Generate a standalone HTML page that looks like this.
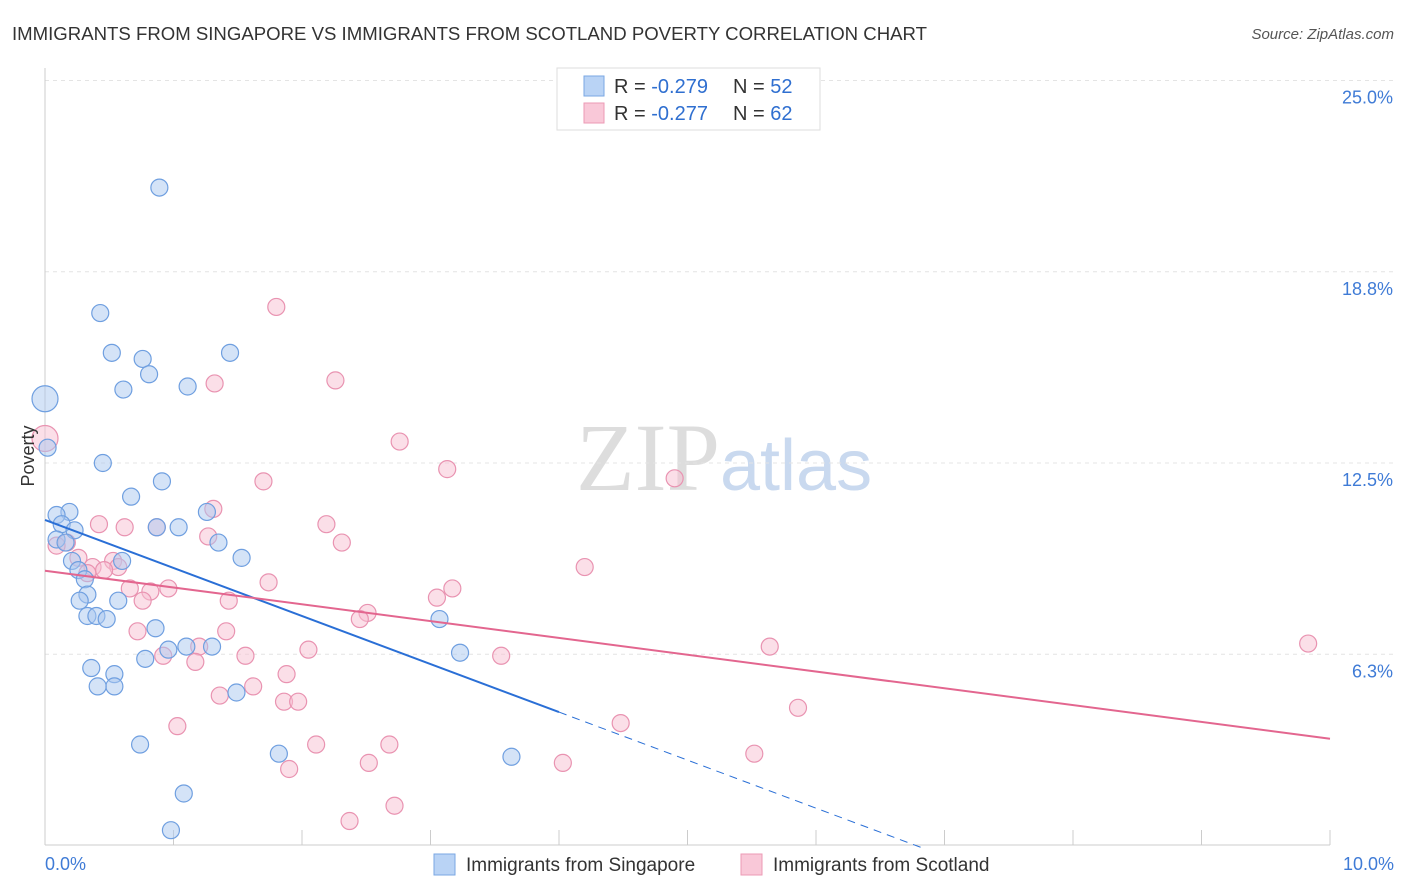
<!DOCTYPE html>
<html><head><meta charset="utf-8"><style>
body{margin:0;background:#fff;font-family:"Liberation Sans",sans-serif}
svg{display:block}
</style></head><body>
<svg width="1406" height="892" viewBox="0 0 1406 892">
<text x="12" y="40" font-size="18.6" fill="#333">IMMIGRANTS FROM SINGAPORE VS IMMIGRANTS FROM SCOTLAND POVERTY CORRELATION CHART</text>
<text x="1394" y="39" font-size="15" fill="#555" font-style="italic" text-anchor="end">Source: ZipAtlas.com</text>
<text x="720" y="490" font-size="96" fill="#ddd" font-family="Liberation Serif,serif" text-anchor="end">ZIP</text>
<text x="720" y="490" font-size="72" fill="#c9d9ef">atlas</text>
<g id="grid"></g><g id="axes"></g><g id="pts"></g><g id="trend"></g>
<g>
<rect x="557" y="68" width="263" height="62" fill="#fff" stroke="#ddd"/>
<rect x="584" y="76" width="20" height="20" fill="#b9d3f5" stroke="#7aa7e3"/>
<rect x="584" y="103" width="20" height="20" fill="#f9c8d8" stroke="#ec9ab5"/>
<text x="614" y="93" font-size="20" fill="#333">R = <tspan fill="#2f6fd0">-0.279</tspan><tspan x="733">N = </tspan><tspan fill="#2f6fd0">52</tspan></text>
<text x="614" y="120" font-size="20" fill="#333">R = <tspan fill="#2f6fd0">-0.277</tspan><tspan x="733">N = </tspan><tspan fill="#2f6fd0">62</tspan></text>
</g>
<g>
<rect x="434" y="854" width="21" height="21" fill="#b9d3f5" stroke="#7aa7e3"/>
<text x="466" y="871" font-size="19" fill="#333">Immigrants from Singapore</text>
<rect x="741" y="854" width="21" height="21" fill="#f9c8d8" stroke="#ec9ab5"/>
<text x="773" y="871" font-size="19" fill="#333">Immigrants from Scotland</text>
</g>
<text x="34" y="456" font-size="18" fill="#333" text-anchor="middle" transform="rotate(-90 34 456)">Poverty</text>
</svg>
<script>
const yTicks=[25,18.75,12.5,6.25];
const yTickLabels=["25.0%","18.8%","12.5%","6.3%"];
const xTickLabels=["0.0%","10.0%"];
const blueX=[0.0,0.02,0.89,0.43,0.52,0.76,1.44,0.81,0.61,1.11,0.45,0.67,0.91,0.19,0.09,0.13,0.23,0.09,0.16,1.04,0.87,1.26,1.35,1.53,0.6,0.21,0.26,0.31,0.33,0.27,0.57,0.33,0.4,0.48,0.86,3.07,1.1,1.3,0.96,0.78,3.23,0.36,0.54,0.54,0.41,1.49,0.74,1.82,3.63,1.08,0.98];
const blueY=[14.6,13.0,21.5,17.4,16.1,15.9,16.1,15.4,14.9,15.0,12.5,11.4,11.9,10.9,10.8,10.5,10.3,10.0,9.9,10.4,10.4,10.9,9.9,9.4,9.3,9.3,9.0,8.7,8.2,8.0,8.0,7.5,7.5,7.4,7.1,7.4,6.5,6.5,6.4,6.1,6.3,5.8,5.6,5.2,5.2,5.0,3.3,3.0,2.9,1.7,0.5];
const pinkX=[0.0,1.8,2.26,1.32,2.76,3.13,4.9,1.7,0.42,0.62,2.19,0.87,1.31,1.27,2.31,0.17,0.09,0.26,0.37,0.53,0.57,0.46,0.33,4.2,1.74,3.17,0.66,0.82,0.96,3.05,0.76,1.43,2.51,2.45,0.72,1.41,1.2,2.05,1.56,0.92,1.17,3.55,5.64,9.83,1.88,1.36,1.62,1.86,1.97,1.03,5.86,4.48,2.11,2.68,5.52,1.9,2.52,4.03,2.72,2.37];
const pinkY=[13.3,17.6,15.2,15.1,13.2,12.3,12.0,11.9,10.5,10.4,10.5,10.4,11.0,10.1,9.9,9.9,9.8,9.4,9.1,9.3,9.1,9.0,8.9,9.1,8.6,8.4,8.4,8.3,8.4,8.1,8.0,8.0,7.6,7.4,7.0,7.0,6.5,6.4,6.2,6.2,6.0,6.2,6.5,6.6,5.6,4.9,5.2,4.7,4.7,3.9,4.5,4.0,3.3,3.3,3.0,2.5,2.7,2.7,1.3,0.8];
const blueTrendX=[0,4],blueTrendY=[10.64,4.36],blueDashX=[4,6.82];
const pinkTrendX=[0,10],pinkTrendY=[8.98,3.49];
const NS='http://www.w3.org/2000/svg';
const X=v=>45+v*128.5, Y=v=>845.5-v*30.6;
function mk(p,t,a){const e=document.createElementNS(NS,t);for(const k in a)e.setAttribute(k,a[k]);document.getElementById(p).appendChild(e);return e;}
yTicks.forEach((t,i)=>{
 const g=mk('grid','line',{x1:45,x2:1394,y1:Y(t),y2:Y(t),stroke:'#e4e4e4','stroke-dasharray':'4 4'});
 
 
 const l=mk('grid','text',{x:1393,y:Y(t)+23,'font-size':18,fill:'#3f7bd6','text-anchor':'end'});l.textContent=yTickLabels[i];
 
 
});
const ax=mk('axes','line',{x1:45,x2:45,y1:68,y2:845,stroke:'#ccc'});


const bx=mk('axes','line',{x1:45,x2:1330,y1:845,y2:845,stroke:'#ccc'});


for(let i=0;i<=10;i++){const t=mk('axes','line',{x1:X(i),x2:X(i),y1:830,y2:845,stroke:'#ccc'});
 
 }
[[0,'start',45],[10,'end',1394]].forEach((d,i)=>{const l=mk('axes','text',{x:d[2],y:870,'font-size':18,fill:'#3f7bd6','text-anchor':d[1]});l.textContent=xTickLabels[i];
 
 });
function pts(xs,ys,fill,stroke,name){xs.forEach((x,i)=>{const r=(i===0)?13:8.5;
 const c=mk('pts','circle',{cx:X(x),cy:Y(ys[i]),r:r,fill:fill,'fill-opacity':0.5,stroke:stroke,'stroke-width':1.2});
 
 });}
pts(pinkX,pinkY,'#f7bfd2','#e993b1','scotland-point');
pts(blueX,blueY,'#aac8f0','#6f9fe0','singapore-point');
const bs=(blueTrendY[1]-blueTrendY[0])/(blueTrendX[1]-blueTrendX[0]);
const l1=mk('trend','line',{x1:X(blueTrendX[0]),y1:Y(blueTrendY[0]),x2:X(blueTrendX[1]),y2:Y(blueTrendY[1]),stroke:'#2a6fd6','stroke-width':2});


const l2=mk('trend','line',{x1:X(blueDashX[0]),y1:Y(blueTrendY[0]+bs*blueDashX[0]),x2:X(blueDashX[1]),y2:Y(blueTrendY[0]+bs*blueDashX[1]),stroke:'#2a6fd6','stroke-width':1,'stroke-dasharray':'8 6'});


const l3=mk('trend','line',{x1:X(pinkTrendX[0]),y1:Y(pinkTrendY[0]),x2:X(pinkTrendX[1]),y2:Y(pinkTrendY[1]),stroke:'#e3668f','stroke-width':2});


</script>
</body></html>
